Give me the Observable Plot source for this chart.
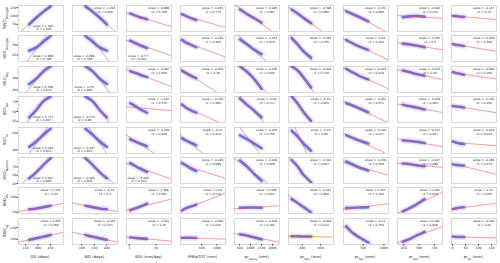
<!DOCTYPE html>
<html><head><meta charset="utf-8">
<script src="https://cdn.jsdelivr.net/npm/d3@7"></script>
<script src="https://cdn.jsdelivr.net/npm/@observablehq/plot@0.6"></script>
<style>
html,body{margin:0;padding:0;background:#fff;}
#chart{position:relative;width:500px;height:263px;overflow:hidden;font-family:"DejaVu Sans",sans-serif;text-rendering:geometricPrecision;}
#chart svg, #chart text{text-rendering:geometricPrecision;}
</style></head><body><div id="chart"></div>
<script>
const rowNames = ["RWD","RSD","RSD","RSD","RSD","RSD","RSO","RSO"];
const rowSubs = ["Drought","Drought","Dry","DV","fe","Normal","Wi","Hg"];
const colNames = ["DD (days)","WD (days)","SDII (mm/day)","R95pTOT (mm)","pr","pr","pr","pr","pr"];
const colSubs = ["","","","","Yearly","Win","Spr","Aut","Su"];
const colUnits = ["","","","",' (mm)',' (mm)',' (mm)',' (mm)',' (mm)'];
const xTicks = [[150,200,250],[100,150,200],[5,10],[500,1000],[500,1000,1500,2000],[200,400],[500,1000],[250,500,750],[0,50,100,150]];
const yTicks = [[50,100,150],[25,50],[20,40],[25,50,75],[40,60],[25,50,75],[50,100],[100,150]];
const xDomains = [[122,302],[63,243],[4.5,12.9],[-190,1280],[270,2320],[50,540],[23,1112],[147,885],[-4,169]];
const yDomains = [[7,163],[8,75],[15.5,60],[22,88],[35.7,66.8],[25,103],[46,133],[78,189]];
const slopes = [
 [1.293,-1.293,-9.888,-0.053,-0.095,-0.398,-0.131,-0.022,-0.127],
 [0.886,-0.886,-4.77,-0.029,-0.053,-0.283,-0.05,-0.025,-0.109],
 [0.546,-0.55,-3.497,-0.033,-0.038,-0.204,-0.033,-0.023,-0.066],
 [0.773,-0.773,-1.147,-0.035,-0.06,-0.34,-0.051,-0.029,-0.104],
 [0.442,-0.437,-4.209,-0.03,-0.035,-0.24,-0.024,-0.013,-0.024],
 [0.627,-0.629,-5.633,-0.029,-0.049,-0.324,-0.036,-0.017,-0.189],
 [0.151,-0.16,4.396,0.04,0.005,-0.261,0.017,0.094,0.11],
 [0.233,-0.235,-2.021,-0.005,-0.018,-0.009,-0.11,0.092,-0.036]];
const r2s = [
 [0.918,0.926,0.768,0.775,0.887,0.882,0.868,0.119,0.12],
 [0.798,0.798,0.342,0.462,0.619,0.755,0.426,0.3,0.308],
 [0.876,0.884,0.258,0.36,0.526,0.718,0.418,0.34,0.156],
 [0.847,0.86,0.576,0.583,0.717,0.825,0.571,0.465,0.259],
 [0.813,0.833,0.528,0.413,0.756,0.82,0.417,0.107,0.016],
 [0.888,0.908,0.519,0.688,0.828,0.823,0.568,0.288,0.579],
 [0.23,0.3,0.581,0.716,0.007,0.884,0.183,0.818,0.256],
 [0.458,0.471,0.15,0.005,0.182,0.012,0.756,0.608,0.03]];
const notePos = [
 ["br","tr","tr","tr","tr","tr","tr","tr","tr"],
 ["br","bl","bl","tr","tr","tr","tr","tr","tr"],
 ["br","bl","tr","tr","tr","tr","tr","tr","tr"],
 ["br","bl","tr","tr","tr","tr","tr","tr","tr"],
 ["br","bl","tr","tr","tr","tr","tr","tr","tr"],
 ["br","bl","bl","tr","tr","tr","tr","tr","tr"],
 ["tr","tr","tr","tr","tr","tr","tr","tr","tr"],
 ["tr","tr","tr","tr","tr","tr","tr","tr","tr"]];
const cloudX = [[165,195,220,250],[115,145,170,200],[5.2,6.2,7.0,8.3],[-140,-20,120,320],[520,840,1130,1500],[85,150,210,295],[90,240,400,620],[235,355,455,590],[2,12,24,44]];
const cloudY = [
 [[50,92,124,158],[158,124,92,50],[115,102,92,80],[111,101,90,76],[140,112,90,60],[138,115,90,57],[128,112,94,68],[92,98,100,96],[100,99,97,95]],
 [[36,45,58,74],[74,58,45,36],[62,55,50,43],[64,57,52,45],[65,52,40,27],[68,52,35,18],[63,55,47,38],[54,52,49,45],[53,51,50,48]],
 [[30,40,51,60],[60,51,40,30],[52,49,46,42],[53,49,45,40],[60,51,40,22],[60,53,42,24],[56,50,44,38],[53,50,47,44],[50,49,48,46]],
 [[35,55,75,88],[88,75,55,35],[71,63,56,47],[68,60,54,47],[83,67,54,35],[88,70,50,26],[71,65,58,48],[67,63,60,55],[64,63,62,60]],
 [[43.6,50.7,57.5,65.2],[65.2,57.5,50.7,43.6],[52.8,49.8,47.6,44.5],[53.8,51.3,48.8,45.7],[57.5,52.8,48.2,42],[63,56,48,39],[57.5,54.4,51.3,47.6],[51.3,50.7,49.7,48.2],[50,49,48,47]],
 [[40.6,60,79.6,101],[101,79.6,60,40.6],[86,77,70,60],[87,80,72,62],[94,76,56,33],[95,76,52,29],[91,82,73,64],[85,83,80,77],[82,81,80,79]],
 [[60,63,67,72],[72,67,63,60],[56.4,63.4,68.6,79],[56,63,68.6,75.6],[65,66,66,65],[94,81,68,50],[64,65,66,67],[53,65,76,94],[61,63,65,67]],
 [[98,105,111,119],[119,111,105,98],[108,106,104,102],[107,107,107,106],[122,116,109,100],[113,113,112,112],[156,128,109,87],[90,102,116,132],[112,111,110,110]]];

const chart = document.getElementById("chart");
const L0 = 17.6, CP = 54.15, PW = 45, T0 = 5, RP = 30.4, PH = 26;
const anchors = {tr:"top-right", br:"bottom-right", bl:"bottom-left"};
const noteDx = {tr: -12.5, br: -20, bl: 12};
const fmt = d => String(d);

for (let r = 0; r < 8; r++) {
  for (let c = 0; c < 9; c++) {
    const pts = cloudX[c].map((x, i) => ({x, y: cloudY[r][c][i]}));
    const xm = d3.mean(cloudX[c]), ym = d3.mean(cloudY[r][c]);
    const ends = xDomains[c].map(x => ({x, y: ym + slopes[r][c] * (x - xm)}));
    const p = notePos[r][c];
    const marks = [
      Plot.frame({stroke: "#cfcfcf", strokeWidth: 0.8}),
      Plot.line(pts, {x: "x", y: "y", stroke: "#a4a4f4", strokeWidth: 6, strokeOpacity: 0.3, strokeLinecap: "round", strokeLinejoin: "round", curve: "catmull-rom", clip: true}),
      Plot.line(pts, {x: "x", y: "y", stroke: "#3c3cd6", strokeWidth: 2.6, strokeOpacity: 0.7, strokeLinecap: "round", strokeLinejoin: "round", curve: "catmull-rom", clip: true}),
      Plot.line(ends, {x: "x", y: "y", stroke: "#ff4040", strokeWidth: 0.7, strokeOpacity: 0.8, strokeDasharray: "1.6,0.8", clip: true}),
      Plot.text([`slope = ${slopes[r][c]},\nr2 = ${r2s[r][c]}`], {text: d => d, frameAnchor: anchors[p], textAnchor: "middle", lineAnchor: p[0] === "t" ? "top" : "bottom", dx: noteDx[p], dy: p[0] === "t" ? 1.2 : -1.2, fontSize: 2.9, lineHeight: 1.2, fill: "#222"})
    ];
    if (r === 7) marks.push(Plot.axisX({ticks: xTicks[c], tickFormat: fmt, tickSize: 1.5, tickPadding: 0.8, fontSize: 3.2, label: null, stroke: "#444", fill: "#222"}));
    if (c === 0) marks.push(Plot.axisY({ticks: yTicks[r], tickFormat: fmt, tickSize: 1.5, tickPadding: 0.8, fontSize: 3.2, label: null, stroke: "#444", fill: "#222"}));
    const svg = Plot.plot({
      width: PW, height: PH,
      marginTop: 0, marginRight: 0, marginBottom: 0, marginLeft: 0,
      x: {domain: xDomains[c], axis: null},
      y: {domain: yDomains[r], axis: null},
      style: {fontFamily: "DejaVu Sans", overflow: "visible", background: "transparent", textRendering: "geometricPrecision"},
      marks
    });
    svg.style.position = "absolute";
    svg.style.left = (L0 + c * CP) + "px";
    svg.style.top = (T0 + r * RP) + "px";
    chart.appendChild(svg);
  }
}

const ov = d3.create("svg").attr("width", 500).attr("height", 263)
  .style("position", "absolute").style("left", "0px").style("top", "0px")
  .style("font-family", "DejaVu Sans").style("pointer-events", "none")
  .style("text-rendering", "geometricPrecision");
rowNames.forEach((n, r) => {
  const t = ov.append("text")
    .attr("transform", `translate(5.5,${T0 + r * RP + PH / 2}) rotate(-90)`)
    .attr("text-anchor", "middle").attr("font-size", 4).attr("fill", "#222");
  t.append("tspan").text(n);
  t.append("tspan").attr("baseline-shift", "sub").attr("font-size", 3).text(rowSubs[r]);
});
colNames.forEach((n, c) => {
  const t = ov.append("text")
    .attr("x", L0 + c * CP + PW / 2).attr("y", 257.5)
    .attr("text-anchor", "middle").attr("font-size", 3.8).attr("fill", "#222");
  t.append("tspan").text(n);
  if (colSubs[c]) {
    t.append("tspan").attr("baseline-shift", "sub").attr("font-size", 2.9).text(colSubs[c]);
    t.append("tspan").text(colUnits[c]);
  }
});
chart.appendChild(ov.node());
</script></body></html>
